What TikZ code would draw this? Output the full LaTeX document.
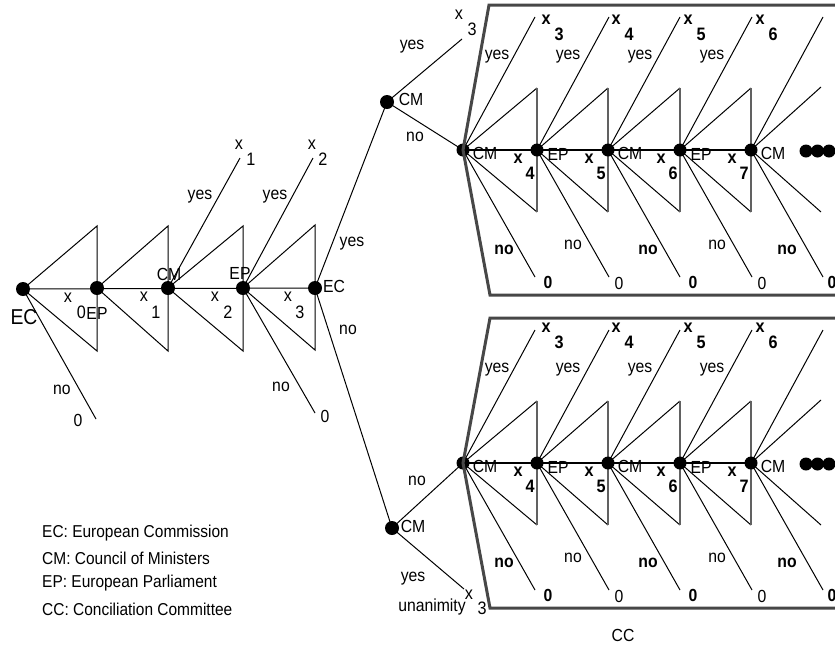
\documentclass[tikz,border=0pt]{standalone}
\usepackage{fontspec}
\setmainfont{Liberation Sans}[FakeStretch=0.9]
\begin{document}
\begin{tikzpicture}[x=1pt,y=-1pt,
  ln/.style={line width=1pt, draw=black},
  hln/.style={line width=1.2pt, draw=black},
  vgray/.style={line width=1.4pt, draw=black!62},
  boxline/.style={line width=3pt, draw=black!72, line join=miter},
  bigdot/.style={circle, fill=black, inner sep=0pt, minimum size=14pt},
  smdot/.style={circle, fill=black, inner sep=0pt, minimum size=13pt},
  lbl/.style={inner sep=0pt, font=\fontsize{17.5}{19}\selectfont},
  nb/.style={inner sep=0pt, font=\fontsize{17.5}{19}\selectfont\bfseries},
  xl/.style={inner sep=0pt, font=\fontsize{18}{20}\selectfont},
  xb/.style={inner sep=0pt, font=\fontsize{18}{20}\selectfont\bfseries},
  bigl/.style={inner sep=0pt, font=\fontsize{21.5}{23}\selectfont},
  leg/.style={inner sep=0pt, anchor=west, font=\fontsize{17.2}{19}\selectfont}]
\useasboundingbox (0,0) rectangle (835,646);

% ---------- left tree ----------
\coordinate (EC0) at (23,289);
\coordinate (EP1) at (97,288);
\coordinate (CM1) at (168,288);
\coordinate (EP2) at (243,288);
\coordinate (EC1) at (315,288);
\draw[ln] (EC0) -- (97,226) -- (97,351) -- cycle;
\draw[ln] (EP1) -- (168,226) -- (168,351) -- cycle;
\draw[ln] (CM1) -- (243,226) -- (243,351) -- cycle;
\draw[ln] (EP2) -- (315,225) -- (315,350) -- cycle;
\draw[ln] (EC0) -- (EC1);
\coordinate (y1) at (240,158);
\coordinate (y2) at (313,158);
\coordinate (n0) at (96,419);
\coordinate (n2) at (315,413);
\draw[ln] (CM1) -- (y1);
\draw[ln] (EP2) -- (y2);
\draw[ln] (EC0) -- (n0);
\draw[ln] (EP2) -- (n2);

% branches to the two CM nodes
\coordinate (CMT) at (387,102);
\coordinate (CMB) at (392,528);
\coordinate (yT) at (462,39);
\coordinate (yB) at (464,589);
\foreach \r/\dy in {U/0, L/313} {
  \foreach \i/\x in {0/463,1/537,2/608,3/680,4/751} {
    \coordinate (\r d\i) at (\x,150+\dy);
    \coordinate (\r y\i) at (\x+72,17+\dy);
    \coordinate (\r n\i) at (\x+72,277+\dy);
  }
}
\draw[ln] (EC1) -- (CMT);
\draw[ln] (EC1) -- (CMB);
\draw[ln] (CMT) -- (yT);
\draw[ln] (CMT) -- (Ud0);
\draw[ln] (CMB) -- (Ld0);
\draw[ln] (CMB) -- (yB);

% ---------- boxes ----------
\foreach \r/\dy/\ty in {U/0/20, L/313/328} {
  \foreach \i/\x/\xn in {0/463/537, 1/537/608, 2/608/680, 3/680/751} {
    \draw[ln] (\r d\i) -- (\xn,88+\dy);
    \draw[ln] (\r d\i) -- (\xn,212+\dy);
    \draw[vgray] (\xn,88+\dy) -- (\xn,212+\dy);
  }
  \draw[ln] (\r d4) -- (821,87+\dy);
  \draw[ln] (\r d4) -- (821,212+\dy);
  \foreach \i in {0,...,4} {
    \draw[ln] (\r d\i) -- (\r y\i);
    \draw[ln] (\r d\i) -- (\r n\i);
  }
  \draw[hln] (\r d0) -- (\r d4);
  % top labels x3..x6 and yes
  \foreach \i/\lx/\yx/\k in {0/546/497/3, 1/616/568/4, 2/688/640/5, 3/760/712/6} {
    \node[xb] (\r tx\i) at (\lx,\ty) {x};
    \node[xb] (\r td\i) at (\lx+13,\ty+14) {\k};
    \node[lbl] (\r yes\i) at (\yx,57+\dy) {yes};
  }
  % subscripted x4..x7 on the main line
  \foreach \i/\x/\k in {1/537/4, 2/608/5, 3/680/6, 4/751/7} {
    \node[xb] (\r sx\i) at (\x-19,159+\dy) {x};
    \node[xb] (\r sd\i) at (\x-7,173+\dy) {\k};
  }
  % CM nodes
  \foreach \i/\x/\nx/\zx in {0/463/504/548, 2/608/648/693, 4/751/787/832} {
    \node[lbl] (\r lab\i) at (\x+22,153+\dy) {CM};
    \node[nb] (\r no\i) at (\nx,250+\dy) {no};
    \node[nb] (\r z\i) at (\zx,282+\dy) {0};
  }
  % EP nodes
  \foreach \i/\x/\nx/\zx in {1/537/573/619, 3/680/717/762} {
    \node[lbl] (\r lab\i) at (\x+21,154+\dy) {EP};
    \node[lbl] (\r no\i) at (\nx,245+\dy) {no};
    \node[lbl] (\r z\i) at (\zx,283+\dy) {0};
  }
  \foreach \i in {0,...,4} {
    \node[smdot] (\r dot\i) at (\r d\i) {};
  }
  \node[smdot] (\r e1) at (806,151+\dy) {};
  \node[smdot] (\r e2) at (817.5,151+\dy) {};
  \node[smdot] (\r e3) at (829,151+\dy) {};
}
\draw[boxline] (850,5) -- (489,5) -- (Ud0) -- (490,295) -- (850,295);
\draw[boxline] (850,318) -- (490,318) -- (Ld0) -- (490,608) -- (850,608);

% ---------- left tree dots and labels ----------
\node[bigdot] (dEC0) at (EC0) {};
\node[bigdot] (dEP1) at (EP1) {};
\node[bigdot] (dCM1) at (CM1) {};
\node[bigdot] (dEP2) at (EP2) {};
\node[bigdot] (dEC1) at (EC1) {};
\node[bigdot] (dCMT) at (CMT) {};
\node[bigdot] (dCMB) at (CMB) {};

\node[bigl] (tEC0) at (24,317) {EC};
\node[xl] (lx0) at (68,298) {x};
\node[xl] (ld0) at (81.5,312) {0};
\node[lbl] (tEP1) at (97,313) {EP};
\node[xl] (lx1) at (144,297) {x};
\node[xl] (ld1) at (156,312) {1};
\node[xl] (lx2) at (215,297) {x};
\node[xl] (ld2) at (228,312) {2};
\node[xl] (lx3) at (288,297) {x};
\node[xl] (ld3) at (300,312) {3};
\node[lbl] (tCM1) at (169,274) {CM};
\node[lbl] (tEP2) at (240,273) {EP};
\node[lbl] (tyes1) at (200,197) {yes};
\node[lbl] (tyes2) at (275,197) {yes};
\node[xl] (ux1) at (239,145) {x};
\node[xl] (ud1) at (251,159) {1};
\node[xl] (ux2) at (312,145) {x};
\node[xl] (ud2) at (323,159) {2};
\node[lbl] (tno0) at (62,390) {no};
\node[lbl] (tz0) at (78,420) {0};
\node[lbl] (tno2) at (281,387) {no};
\node[lbl] (tz2) at (325,416) {0};
\node[lbl] (tEC1) at (334,286) {EC};
\node[lbl] (tyesE) at (352,244) {yes};
\node[lbl] (tnoE) at (348,330) {no};

\node[lbl] (tCMT) at (411,99) {CM};
\node[xl] (tx3a) at (459,15) {x};
\node[xl] (td3a) at (472,29) {3};
\node[lbl] (tyesT) at (412,47) {yes};
\node[lbl] (tnoT) at (415,137) {no};

\node[lbl] (tCMB) at (413,526) {CM};
\node[lbl] (tnoB) at (417,481) {no};
\node[lbl] (tyesB) at (413,579) {yes};
\node[lbl] (tuna) at (432,607) {unanimity};
\node[xl] (tx3b) at (469,595) {x};
\node[xl] (td3b) at (482,608) {3};

\node[lbl] (tCC) at (623,635) {CC};

% legend
\node[leg] (leg1) at (42,533) {EC: European Commission};
\node[leg] (leg2) at (42,558) {CM: Council of Ministers};
\node[leg] (leg3) at (42,583) {EP: European Parliament};
\node[leg] (leg4) at (42,609) {CC: Conciliation Committee};
\end{tikzpicture}
\end{document}
